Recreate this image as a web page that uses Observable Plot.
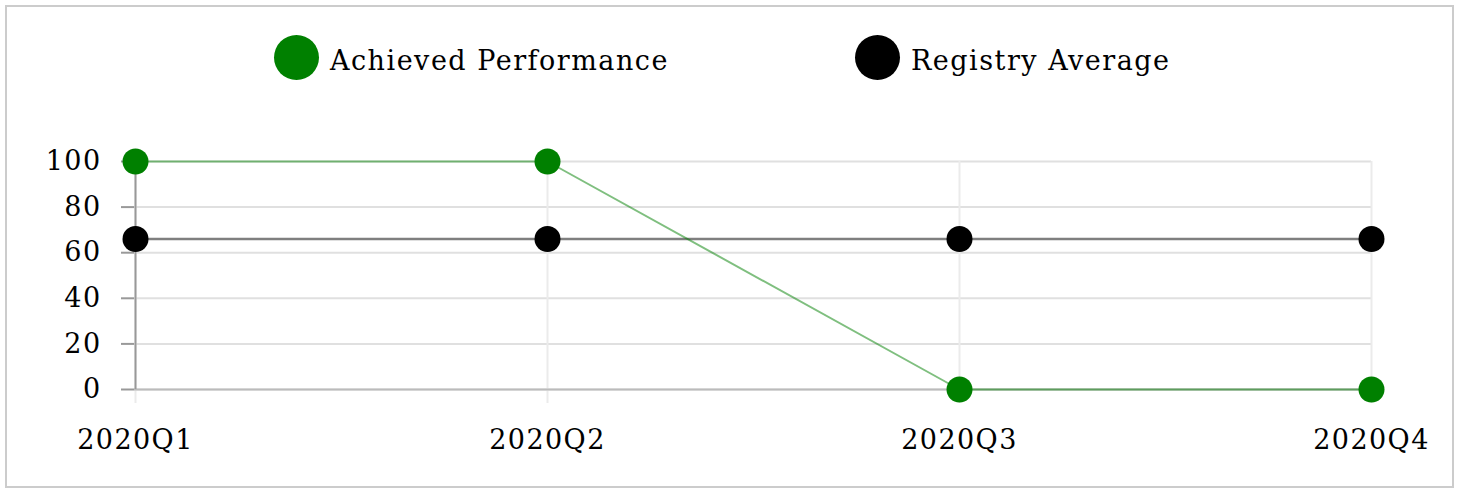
<!DOCTYPE html>
<html>
<head>
<meta charset="utf-8">
<script src="https://cdn.jsdelivr.net/npm/d3@7"></script>
<script src="https://cdn.jsdelivr.net/npm/@observablehq/plot@0.6"></script>
<style>
  html, body { margin: 0; padding: 0; background: #fff; }
  body { width: 1460px; height: 489px; position: relative; overflow: hidden; font-family: "DejaVu Serif", serif; }
  #frame { position: absolute; left: 5px; top: 5px; width: 1449px; height: 483px; box-sizing: border-box; border: 2px solid #cccccc; }
  #legend { position: absolute; left: 0; top: 0; width: 1460px; height: 120px; }
  .li { position: absolute; display: flex; align-items: center; font-size: 27px; letter-spacing: 1.5px; color: #000; white-space: nowrap; }
  .li .tx { position: relative; top: 3px; }
  .sw { width: 45px; height: 45px; border-radius: 50%; display: inline-block; margin-right: 11px; }
  #chart { position: absolute; left: 0; top: 120px; }
</style>
</head>
<body>
<div id="frame"></div>
<div id="legend"></div>
<div id="chart"></div>
<script>
const quarters = ["2020Q1", "2020Q2", "2020Q3", "2020Q4"];
const achieved = [100, 100, 0, 0];
const registryAvg = [66, 66, 66, 66];
const yTicks = [0, 20, 40, 60, 80, 100];
const seriesNames = ["Achieved Performance", "Registry Average"];
const seriesColors = ["#008000", "#000000"];

const rows = [];
quarters.forEach((q, i) => {
  rows.push({quarter: q, value: achieved[i], series: seriesNames[0]});
  rows.push({quarter: q, value: registryAvg[i], series: seriesNames[1]});
});

// legend
const legend = document.getElementById("legend");
const legendPos = [{left: 274, top: 35}, {left: 855, top: 35}];
seriesNames.forEach((name, i) => {
  const d = document.createElement("div");
  d.className = "li";
  d.style.left = legendPos[i].left + "px";
  d.style.top = legendPos[i].top + "px";
  const s = document.createElement("span");
  s.className = "sw";
  s.style.background = seriesColors[i];
  d.appendChild(s);
  const t = document.createElement("span");
  t.className = "tx";
  t.textContent = name;
  d.appendChild(t);
  legend.appendChild(d);
});

const colorScale = {domain: seriesNames, range: seriesColors};

const plot = Plot.plot({
  width: 1460,
  height: 360,
  marginTop: 41,
  marginBottom: 91,
  marginLeft: 134,
  marginRight: 89,
  style: {fontFamily: "DejaVu Serif", fontSize: "27px", letterSpacing: "1.4px", color: "#000", background: "transparent"},
  x: {type: "point", domain: quarters, padding: 0},
  y: {domain: [0, 100]},
  color: colorScale,
  marks: [
    Plot.gridY(yTicks, {stroke: "#e0e0e0", strokeOpacity: 1, strokeWidth: 2}),
    Plot.axisX(quarters, {tickSize: 14, stroke: "#ebebeb", strokeWidth: 2, tickPadding: 26, label: null, fill: "#000"}),
    Plot.gridX(quarters, {stroke: "#ebebeb", strokeOpacity: 1, strokeWidth: 2}),
    Plot.ruleY([0], {stroke: "#bbbbbb", strokeWidth: 2}),
    Plot.axisY(yTicks, {tickSize: 13, tickPadding: 20, stroke: "#999", strokeWidth: 2, label: null, fill: "#000"}),
    Plot.ruleX([quarters[0]], {stroke: "#999", strokeWidth: 2}),
    Plot.line(rows.filter(d => d.series === seriesNames[1]), {x: "quarter", y: "value", stroke: "series", strokeOpacity: 0.5, strokeWidth: 2.5}),
    Plot.line(rows.filter(d => d.series === seriesNames[0]), {x: "quarter", y: "value", stroke: "series", strokeOpacity: 0.5, strokeWidth: 2}),
    Plot.dot(rows, {x: "quarter", y: "value", fill: "series", r: 13})
  ]
});
document.getElementById("chart").appendChild(plot);
</script>
</body>
</html>
